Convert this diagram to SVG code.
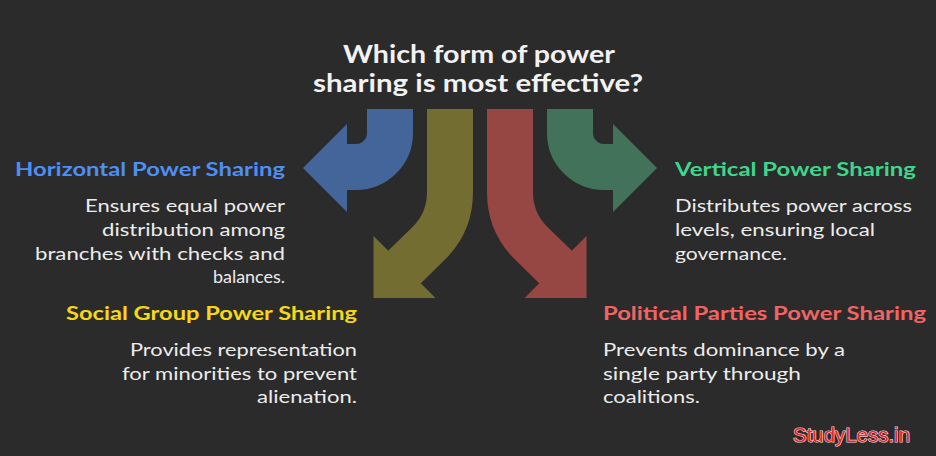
<svg xmlns="http://www.w3.org/2000/svg" width="936" height="456" viewBox="0 0 936 456">
<style>
.bg{fill:#2b2b2b}
.shaft{fill:none;stroke-width:46;stroke-linecap:butt;stroke-linejoin:round}
.title{font-family:Lato,"Noto Sans",sans-serif;font-weight:bold;font-size:24px;fill:#f2f2f2;text-anchor:middle}
.head{font-family:Lato,"Noto Sans",sans-serif;font-weight:bold;font-size:18px}
.desc{font-family:Lato,"Noto Sans",sans-serif;font-size:18px;fill:#ececec}
.end{text-anchor:end}
.brand{font-family:"Liberation Sans",Arial,sans-serif;font-size:20px;fill:#e3262b;stroke:#ffd6d6;stroke-width:1.2px;paint-order:stroke}
</style>
<rect class="bg" x="0" y="0" width="936" height="456"/>
<g id="title">
<text class="title" x="479" y="63" textLength="272" lengthAdjust="spacingAndGlyphs">Which form of power</text>
<text class="title" x="478" y="92" textLength="330" lengthAdjust="spacingAndGlyphs">sharing is most effective?</text>
</g>
<g id="connectors">
<g id="arrow-horizontal" fill="#43659a">
<path class="shaft" stroke="#43659a" d="M390,109 L390,133 A34,34 0 0 1 356,167 L346,167"/>
<polygon points="347,124 347,212 303,168"/>
</g>
<g id="arrow-social" fill="#746d32">
<path class="shaft" stroke="#746d32" d="M450,109 L450,192 Q450,221.5 430,242 L403.5,268"/>
<polygon points="373.5,236 435.5,298 373.5,298"/>
</g>
<g id="arrow-political" fill="#964643">
<path class="shaft" stroke="#964643" d="M510,109 L510,192 Q510,221.5 530,242 L556.5,268"/>
<polygon points="586.5,236 524.5,298 586.5,298"/>
</g>
<g id="arrow-vertical" fill="#42735a">
<path class="shaft" stroke="#42735a" d="M570,109 L570,133 A34,34 0 0 0 604,167 L614,167"/>
<polygon points="613,124 613,212 657,168"/>
</g>
</g>
<g id="node-horizontal">
<text class="head end" x="285" y="176" fill="#4f8ef2" textLength="270" lengthAdjust="spacingAndGlyphs">Horizontal Power Sharing</text>
<text class="desc end" x="285" y="212" textLength="200" lengthAdjust="spacingAndGlyphs">Ensures equal power</text>
<text class="desc end" x="285" y="236" textLength="183" lengthAdjust="spacingAndGlyphs">distribution among</text>
<text class="desc end" x="285" y="260" textLength="250" lengthAdjust="spacingAndGlyphs">branches with checks and</text>
<text class="desc end" x="285" y="283" textLength="72" lengthAdjust="spacingAndGlyphs">balances.</text>
</g>
<g id="node-vertical">
<text class="head" x="675" y="176" fill="#3fd68b" textLength="241" lengthAdjust="spacingAndGlyphs">Vertical Power Sharing</text>
<text class="desc" x="675" y="212" textLength="237" lengthAdjust="spacingAndGlyphs">Distributes power across</text>
<text class="desc" x="675" y="236" textLength="200" lengthAdjust="spacingAndGlyphs">levels, ensuring local</text>
<text class="desc" x="675" y="260" textLength="112" lengthAdjust="spacingAndGlyphs">governance.</text>
</g>
<g id="node-social">
<text class="head end" x="357" y="320" fill="#f6d815" textLength="291" lengthAdjust="spacingAndGlyphs">Social Group Power Sharing</text>
<text class="desc end" x="357" y="356" textLength="227" lengthAdjust="spacingAndGlyphs">Provides representation</text>
<text class="desc end" x="357" y="380" textLength="235" lengthAdjust="spacingAndGlyphs">for minorities to prevent</text>
<text class="desc end" x="357" y="403" textLength="100" lengthAdjust="spacingAndGlyphs">alienation.</text>
</g>
<g id="node-political">
<text class="head" x="603" y="320" fill="#f26464" textLength="323" lengthAdjust="spacingAndGlyphs">Political Parties Power Sharing</text>
<text class="desc" x="603" y="356" textLength="242" lengthAdjust="spacingAndGlyphs">Prevents dominance by a</text>
<text class="desc" x="603" y="380" textLength="198" lengthAdjust="spacingAndGlyphs">single party through</text>
<text class="desc" x="603" y="403" textLength="97" lengthAdjust="spacingAndGlyphs">coalitions.</text>
</g>
<g id="brand">
<text class="brand" x="793" y="442" textLength="117" lengthAdjust="spacingAndGlyphs">StudyLess.in</text>
</g>
</svg>
